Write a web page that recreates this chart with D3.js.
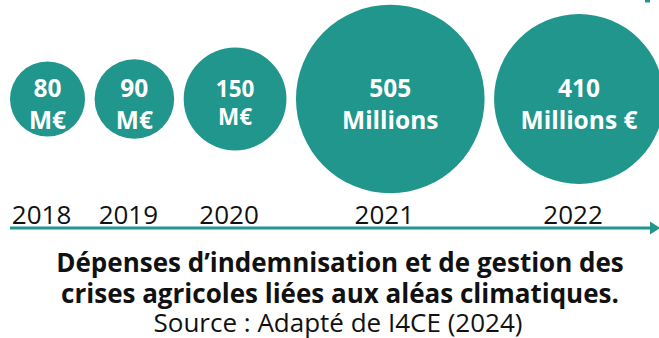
<!DOCTYPE html>
<html>
<head>
<meta charset="utf-8">
<script src="https://cdn.jsdelivr.net/npm/d3@7"></script>
<style>
  html, body { margin: 0; padding: 0; background: #fff; }
  svg { display: block; font-family: "Open Sans", sans-serif; }
</style>
</head>
<body>
<svg id="chart" width="659" height="338"></svg>
<script>
// Annual spending (millions of euros) and the text printed in each bubble
const years = [2018, 2019, 2020, 2021, 2022];
const values = [80, 90, 150, 505, 410];
const bubbleLines = [
  ["80", "M€"],
  ["90", "M€"],
  ["150", "M€"],
  ["505", "Millions"],
  ["410", "Millions €"]
];
const titleLines = [
  "Dépenses d’indemnisation et de gestion des",
  "crises agricoles liées aux aléas climatiques."
];
const sourceLine = "Source : Adapté de I4CE (2024)";

const teal = "#21968c";
const width = 659, height = 338;
const cy = 99;          // bubble row centre
const axisY = 228;      // timeline
const gap = 9.5;        // space between neighbouring bubbles
const startX = 10;

const svg = d3.select("#chart");

// Bubble area proportional to value
const r = d3.scaleSqrt().domain([0, d3.max(values)]).range([0, 94.3]);

// Pack bubbles side by side along the timeline
const data = years.map((y, i) => ({ year: y, value: values[i], lines: bubbleLines[i] }));
let cursor = startX;
data.forEach(d => {
  d.r = r(d.value);
  d.cx = cursor + d.r;
  cursor = d.cx + d.r + gap;
});

// Timeline with arrow head
svg.append("line")
  .attr("x1", startX).attr("x2", 651)
  .attr("y1", axisY).attr("y2", axisY)
  .attr("stroke", teal).attr("stroke-width", 3);
svg.append("path")
  .attr("d", d3.line()([[650, axisY - 6.5], [660, axisY], [650, axisY + 6.5]]) + "Z")
  .attr("fill", teal);

// Small marker at the top edge
svg.append("rect")
  .attr("x", 645).attr("y", 0).attr("width", 5).attr("height", 2.5)
  .attr("fill", teal);

// Bubbles
const g = svg.append("g");
g.selectAll("circle")
  .data(data)
  .join("circle")
  .attr("cx", d => d.cx)
  .attr("cy", cy)
  .attr("r", d => d.r)
  .attr("fill", teal);

// Text inside bubbles
const labelSize = d => (d.r > 45 && d.r < 70 ? 22.5 : 24.5);
const lineGap = d => (d.r > 45 && d.r < 70 ? 28 : 31.5);
const labels = g.selectAll("text.value")
  .data(data)
  .join("text")
  .attr("class", "value")
  .attr("text-anchor", "middle")
  .attr("fill", "#fff")
  .attr("font-weight", 700)
  .attr("font-size", labelSize);
labels.selectAll("tspan")
  .data(d => d.lines.map((t, i) => ({ t, i, d })))
  .join("tspan")
  .attr("x", o => o.d.cx)
  .attr("y", o => cy - 2 + o.i * lineGap(o.d))
  .text(o => o.t);

// Year labels above the timeline
svg.selectAll("text.year")
  .data(data)
  .join("text")
  .attr("class", "year")
  .attr("x", d => d.cx - 6)
  .attr("y", axisY - 4)
  .attr("text-anchor", "middle")
  .attr("font-size", 26)
  .attr("fill", "#111")
  .text(d => d.year);

// Caption
svg.selectAll("text.title")
  .data(titleLines)
  .join("text")
  .attr("class", "title")
  .attr("x", 340)
  .attr("y", (d, i) => 272 + i * 30.5)
  .attr("text-anchor", "middle")
  .attr("font-size", 26)
  .attr("font-weight", 700)
  .attr("fill", "#111")
  .text(d => d);

svg.append("text")
  .attr("x", 338)
  .attr("y", 332)
  .attr("text-anchor", "middle")
  .attr("font-size", 26)
  .attr("fill", "#111")
  .text(sourceLine);
</script>
</body>
</html>
